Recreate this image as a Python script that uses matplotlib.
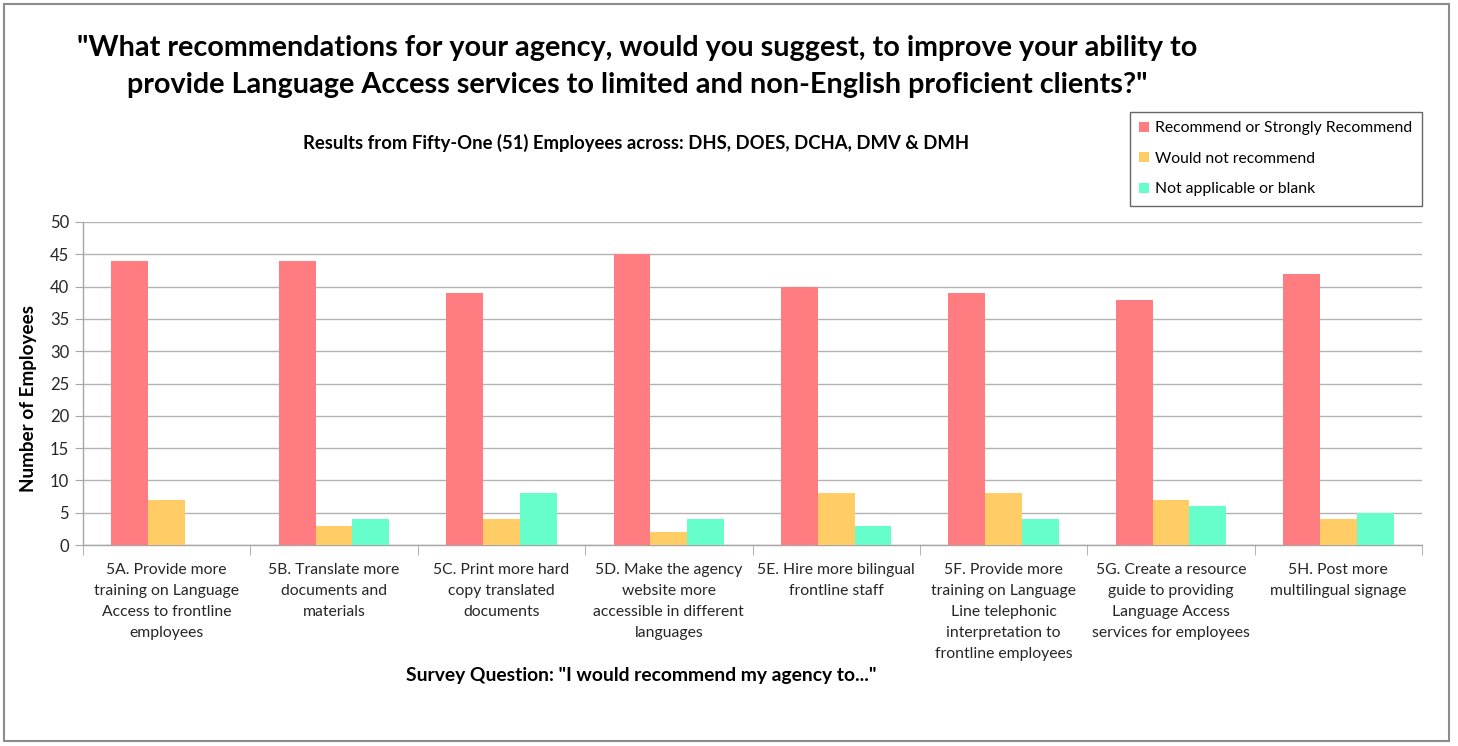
import matplotlib
matplotlib.use("Agg")
import matplotlib.pyplot as plt
import numpy as np
from matplotlib.patches import Rectangle

plt.rcParams['font.family'] = ['Lato', 'DejaVu Sans']

categories = [
    "5A. Provide more\ntraining on Language\nAccess to frontline\nemployees",
    "5B. Translate more\ndocuments and\nmaterials",
    "5C. Print more hard\ncopy translated\ndocuments",
    "5D. Make the agency\nwebsite more\naccessible in different\nlanguages",
    "5E. Hire more bilingual\nfrontline staff",
    "5F. Provide more\ntraining on Language\nLine telephonic\ninterpretation to\nfrontline employees",
    "5G. Create a resource\nguide to providing\nLanguage Access\nservices for employees",
    "5H. Post more\nmultilingual signage",
]
series_names = ["Recommend or Strongly Recommend", "Would not recommend", "Not applicable or blank"]
recommend = [44, 44, 39, 45, 40, 39, 38, 42]
not_recommend = [7, 3, 4, 2, 8, 8, 7, 4]
not_applicable = [0, 4, 8, 4, 3, 4, 6, 5]
colors = ["#FF7C80", "#FFCC66", "#66FFCC"]

fig = plt.figure(figsize=(14.58, 7.46), dpi=100)
ax = fig.add_axes([83/1458, 1-545/746, (1422-83)/1458, (545-222)/746])

x = np.arange(len(categories))
w = 0.22
for i, (vals, c, name) in enumerate(zip([recommend, not_recommend, not_applicable], colors, series_names)):
    ax.bar(x + (i-1)*w, vals, width=w, color=c, label=name, zorder=3)

ax.set_xlim(-0.5, len(categories)-0.5)
ax.set_ylim(0, 50)
ax.set_yticks(range(0, 51, 5))
ax.yaxis.grid(True, color="#B3B3B3", linewidth=1.0, zorder=0)
ax.set_axisbelow(True)
for s in ["top", "right"]:
    ax.spines[s].set_visible(False)
for s in ["left", "bottom"]:
    ax.spines[s].set_color("#A6A6A6")
    ax.spines[s].set_linewidth(1.0)

ax.set_xticks(x)
ax.set_xticklabels(categories, fontsize=11.3, color="#262626", linespacing=1.64)
ax.tick_params(axis='x', length=0, pad=13)
ax.set_xticks(np.arange(-0.5, len(categories), 1.0), minor=True)
ax.tick_params(axis='x', which='minor', length=7, color="#A6A6A6")
ax.tick_params(axis='y', length=6, color="#A6A6A6", labelsize=12, labelcolor="#262626", pad=4)

fig.text(29/1458, 1-398/746, "Number of Employees", rotation=90, ha='center', va='center',
         fontsize=13.6, fontweight='bold')

fig.text(637/1458, 1-48/746, "\"What recommendations for your agency, would you suggest, to improve your ability to",
         ha='center', va='center', fontsize=20.7, fontweight='bold')
fig.text(637/1458, 1-85/746, "provide Language Access services to limited and non-English proficient clients?\"",
         ha='center', va='center', fontsize=20.7, fontweight='bold')
fig.text(636/1458, 1-143/746, "Results from Fifty-One (51) Employees across: DHS, DOES, DCHA, DMV & DMH",
         ha='center', va='center', fontsize=13.3, fontweight='bold')
fig.text(641/1458, 1-675/746, "Survey Question: \"I would recommend my agency to...\"",
         ha='center', va='center', fontsize=13.9, fontweight='bold')

leg = fig.legend(loc='upper left', bbox_to_anchor=(1130/1458, 1-112/746), fontsize=11.3,
                 frameon=True, fancybox=False, handlelength=0.6, handleheight=0.6,
                 handletextpad=0.4, labelspacing=1.05, borderpad=0.6, borderaxespad=0,
                 edgecolor="#404040")
leg.get_frame().set_linewidth(1.0)

fig.patches.append(Rectangle((4/1458, 1-741/746), 1445/1458, 737/746, transform=fig.transFigure,
                             fill=False, edgecolor="#8C8C8C", linewidth=1.5))

fig.savefig("out.png", dpi=100)
